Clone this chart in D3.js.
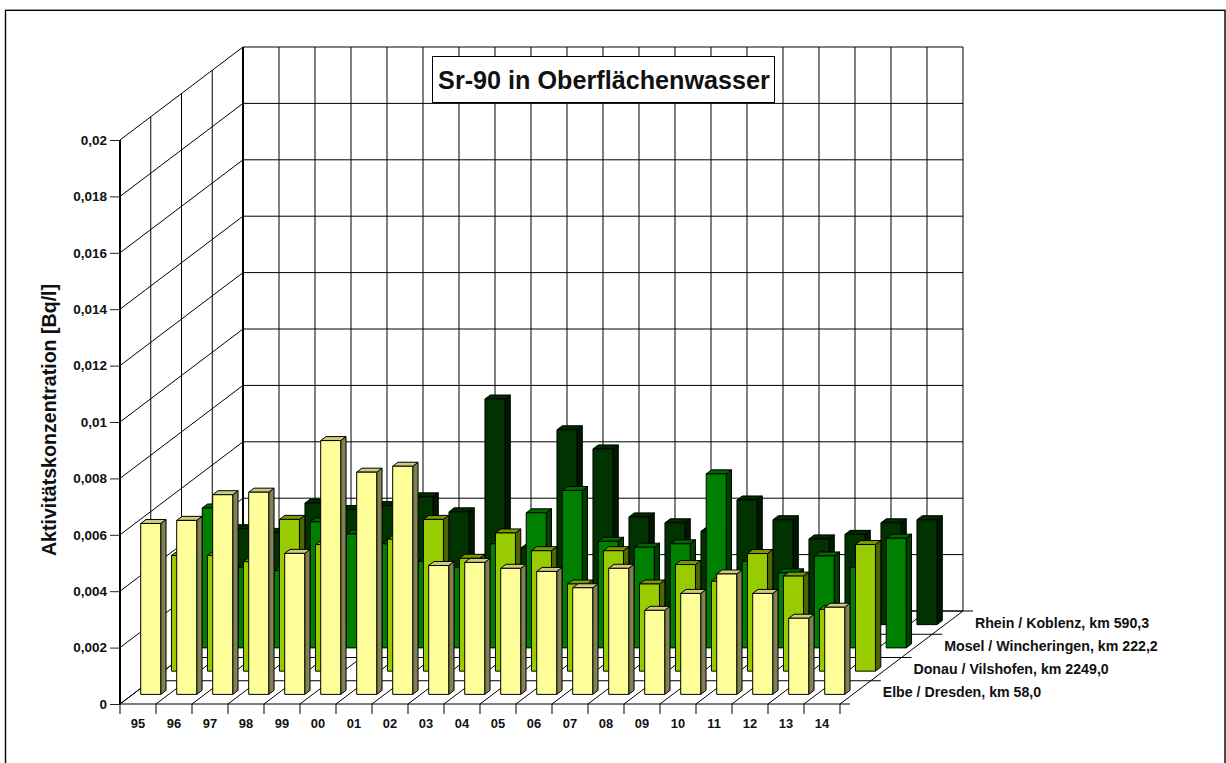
<!DOCTYPE html>
<html>
<head>
<meta charset="utf-8">
<script src="https://cdn.jsdelivr.net/npm/d3@7"></script>
<style>
  html, body { margin: 0; padding: 0; background: white; overflow: hidden; }
  text { font-family: "Liberation Sans", Arial, sans-serif; font-weight: bold; fill: #111; }
</style>
</head>
<body>
<div id="chart"></div>
<script>
const years = ["95", "96", "97", "98", "99", "00", "01", "02", "03", "04",
  "05", "06", "07", "08", "09", "10", "11", "12", "13", "14"];
const seriesNames = ["Elbe / Dresden, km 58,0", "Donau / Vilshofen, km 2249,0",
  "Mosel / Wincheringen, km 222,2", "Rhein / Koblenz, km 590,3"];
const yTicks = [0, 0.002, 0.004, 0.006, 0.008, 0.01, 0.012, 0.014, 0.016, 0.018, 0.02];

const elbe = [0.00606, 0.00617, 0.00708, 0.00717, 0.0050, 0.0090, 0.00788, 0.00809, 0.00457, 0.00468,
  0.00447, 0.00436, 0.00378, 0.00447, 0.00298, 0.00358, 0.00427, 0.00358, 0.00270, 0.00309];
const donau = [0.0041, 0.0041, 0.00388, 0.00538, 0.00449, null, 0.00468, 0.00538, 0.0040, 0.0049,
  0.00427, 0.00309, 0.00427, 0.00309, 0.00378, 0.00319, 0.00417, 0.00337, 0.00219, 0.00449];
const mosel = [0.00496, 0.00286, 0.00274, 0.00447, 0.00404, 0.00369, 0.00307, 0.00286, 0.00369, 0.00479,
  0.00558, 0.00378, 0.00357, 0.00369, 0.00617, 0.00307, 0.00266, 0.00326, 0.00286, 0.00389];
const rhein = [0.0034, 0.00327, 0.00431, 0.00408, 0.00422, 0.00453, 0.0040, 0.0080, 0.00272, 0.00691,
  0.00623, 0.00382, 0.00361, 0.00331, 0.00442, 0.00372, 0.00304, 0.0032, 0.00361, 0.00372];
const seriesValues = [elbe, donau, mosel, rhein];

const faceColors = ["#FFFF99", "#99CC00", "#008000", "#003300"];
const sideColors = ["#808050", "#4D6600", "#004000", "#001A00"];
const topColors = ["#CCCC7A", "#7A9900", "#006600", "#002900"];

const width = 1226;
const height = 763;
const left = 120, right = 840, floorY = 704, topY = 140;
const depthX = 123, depthY = 93;

const svg = d3.select("#chart").append("svg")
  .attr("width", width)
  .attr("height", height)
  .style("display", "block");

svg.append("rect")
  .attr("x", 5.5)
  .attr("y", 10.3)
  .attr("width", 1219.5)
  .attr("height", 800)
  .attr("fill", "white")
  .attr("stroke", "black")
  .attr("stroke-width", 1.4);

const xScale = d3.scaleBand().domain(years).range([left, right]).paddingInner(0.444).paddingOuter(0.222);
const yScale = d3.scaleLinear().domain([0, 0.02]).range([floorY, topY]);
const zScale = d3.scaleBand().domain(d3.range(4)).range([0, 1]).paddingInner(0.827).paddingOuter(0.4135);

// everything 3d goes through this: x along the front, z 0..1 into the chart, v the value
function project(x, z, v) {
  return [x + z * depthX, yScale(v) - z * depthY];
}

const line = d3.line();
const step = (right - left) / years.length;

const grid = svg.append("g")
  .attr("fill", "none")
  .attr("stroke", "black")
  .attr("stroke-width", 1);

function gridLine(points, strokeWidth) {
  grid.append("path")
    .attr("d", line(points))
    .attr("stroke-width", strokeWidth || 1);
}

// back wall and left wall
yTicks.forEach(v => {
  gridLine([project(left, 1, v), project(right, 1, v)]);
  gridLine([project(left, 0, v), project(left, 1, v)]);
});
years.concat("end").forEach((d, i) => {
  gridLine([project(left + i * step, 1, 0), project(left + i * step, 1, 0.02)]);
});
d3.range(1, 4).forEach(i => {
  gridLine([project(left, i / 4, 0), project(left, i / 4, 0.02)]);
});

// floor, with the series ticks sticking out on the right
years.concat("end").forEach((d, i) => {
  gridLine([project(left + i * step, 0, 0), project(left + i * step, 1, 0)]);
  if (i > 0) gridLine([project(left + i * step, 0, 0), [left + i * step, floorY + 10]]);
});
gridLine([[left, floorY], [left, floorY + 10]]);
d3.range(0, 5).forEach(i => {
  const p = project(right, i / 4, 0);
  gridLine([project(left, i / 4, 0), [p[0] + 10, p[1]]]);
});

gridLine([project(left, 0, 0), project(left, 0, 0.02)], 2);
gridLine([project(left, 1, 0), project(left, 1, 0.02)], 2);

// bars, back row first
const bars = svg.append("g")
  .attr("stroke", "black")
  .attr("stroke-width", 1)
  .attr("stroke-linejoin", "round");

d3.range(3, -1, -1).forEach(s => {
  const z0 = zScale(s);
  const z1 = z0 + zScale.bandwidth();
  years.forEach((year, i) => {
    const v = seriesValues[s][i];
    if (v == null) return;
    const x0 = xScale(year);
    const x1 = x0 + xScale.bandwidth();
    bars.append("path")
      .attr("fill", sideColors[s])
      .attr("d", line([project(x1, z0, 0), project(x1, z1, 0), project(x1, z1, v), project(x1, z0, v)]) + "Z");
    bars.append("path")
      .attr("fill", topColors[s])
      .attr("d", line([project(x0, z0, v), project(x1, z0, v), project(x1, z1, v), project(x0, z1, v)]) + "Z");
    bars.append("path")
      .attr("fill", faceColors[s])
      .attr("d", line([project(x0, z0, 0), project(x1, z0, 0), project(x1, z0, v), project(x0, z0, v)]) + "Z");
  });
});

// axes
const yAxis = svg.append("g")
  .attr("transform", `translate(${left},0)`)
  .call(d3.axisLeft(yScale)
    .tickValues(yTicks)
    .tickSize(10)
    .tickPadding(3)
    .tickFormat(d => String(d).replace(".", ",")));
yAxis.select(".domain").remove();
yAxis.selectAll("line").attr("stroke", "#222");
yAxis.selectAll("text").attr("font-size", 13.5).style("font-family", null);

const xAxis = svg.append("g")
  .attr("transform", `translate(0,${floorY})`)
  .call(d3.axisBottom(xScale).tickSize(0).tickPadding(15));
xAxis.select(".domain").remove();
xAxis.selectAll("text").attr("font-size", 12.9).style("font-family", null);

// series labels sit by the floor ticks
svg.append("g").selectAll("text")
  .data(seriesNames)
  .join("text")
  .attr("x", (d, i) => project(right, zScale(i), 0)[0] + 30)
  .attr("y", (d, i) => project(right, zScale(i), 0)[1] - 2)
  .attr("font-size", 14.2)
  .attr("dy", "0.35em")
  .text(d => d);

svg.append("text")
  .attr("transform", "translate(49,420) rotate(-90)")
  .attr("text-anchor", "middle")
  .attr("dy", "0.35em")
  .attr("font-size", 19.6)
  .text("Aktivitätskonzentration [Bq/l]");

svg.append("rect")
  .attr("x", 432.5)
  .attr("y", 56.5)
  .attr("width", 342)
  .attr("height", 46)
  .attr("fill", "white")
  .attr("stroke", "black");

svg.append("text")
  .attr("x", 604)
  .attr("y", 80)
  .attr("text-anchor", "middle")
  .attr("dy", "0.36em")
  .attr("font-size", 25.2)
  .text("Sr-90 in Oberflächenwasser");
</script>
</body>
</html>
